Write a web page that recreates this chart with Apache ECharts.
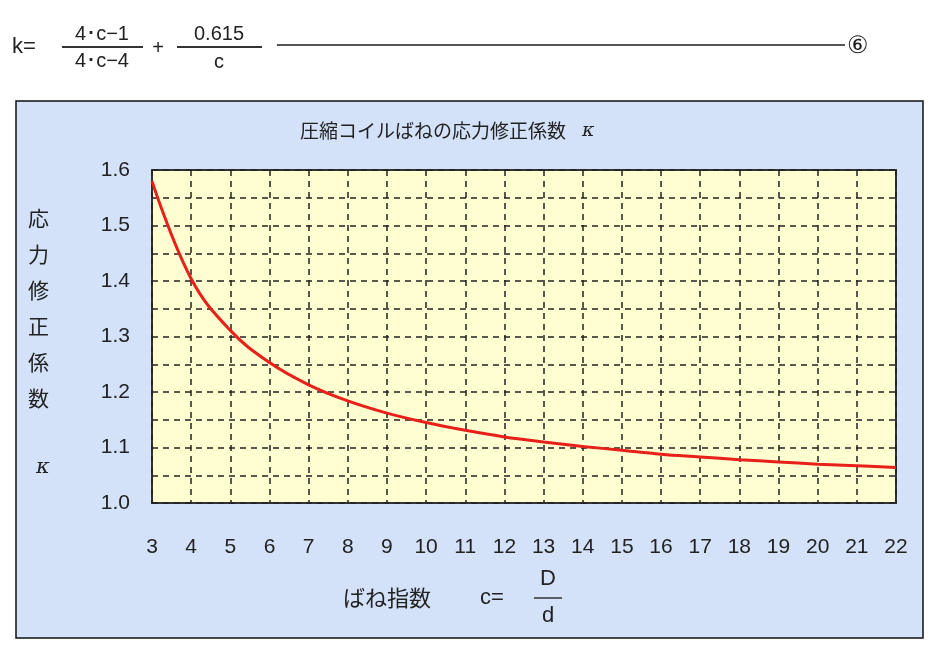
<!DOCTYPE html>
<html><head><meta charset="utf-8">
<script src="https://cdn.jsdelivr.net/npm/echarts@6/dist/echarts.min.js"></script>
<style>html,body{margin:0;padding:0;background:#fff}#c{width:940px;height:658px}</style>
</head><body><div id="c"></div>
<script>
const categories = ['3','4','5','6','7','8','9','10','11','12','13','14','15','16','17','18','19','20','21','22'];
const kValues = [1.580,1.404,1.311,1.253,1.213,1.184,1.162,1.145,1.131,1.119,1.110,1.102,1.095,1.088,1.083,1.078,1.074,1.070,1.067,1.064];

const chart = echarts.init(document.getElementById('c'));
const F = '"Liberation Sans", Arial, sans-serif';
const J = '"Noto Sans CJK JP", sans-serif';
const t = (x,y,text,size,fam,align,style)=>({type:'text',x,y,style:Object.assign({text,fontSize:size,fontFamily:fam||F,fill:'#222',verticalAlign:'middle',align:align||'left'},style||{})});
chart.setOption({
  animation:false,
  graphic:[
    {type:'rect',shape:{x:16,y:101,width:907,height:537},style:{fill:'#d3e2f9',stroke:'#111',lineWidth:1.5},z:-10},
    t(12,47,'k=',22),
    t(102,34,'4･c−1',20,F,'center'),
    {type:'line',shape:{x1:62,y1:47,x2:143,y2:47},style:{stroke:'#333',lineWidth:2}},
    t(102,61,'4･c−4',20,F,'center'),
    t(158,48,'+',20,F,'center'),
    t(219,34,'0.615',20,F,'center'),
    {type:'line',shape:{x1:177,y1:47,x2:262,y2:47},style:{stroke:'#333',lineWidth:2}},
    t(219,62,'c',20,F,'center'),
    {type:'line',shape:{x1:277,y1:45,x2:845,y2:45},style:{stroke:'#555',lineWidth:2}},
    t(847,46,'⑥',24),
    t(300,131,'圧縮コイルばねの応力修正係数',19,J),
    t(582,131,'κ',19,'"DejaVu Serif", serif','left',{fontStyle:'italic'}),
    {type:'text',x:28,y:200,style:{text:'応\n力\n修\n正\n係\n数',fontSize:21,fontFamily:J,fill:'#222',lineHeight:36}},
    t(36,468,'κ',21,'"DejaVu Serif", serif','left',{fontStyle:'italic'}),
    t(343,598,'ばね指数',22,J),
    t(480,598,'c=',22,F),
    t(548,579,'D',22,F,'center'),
    {type:'line',shape:{x1:534,y1:598,x2:562,y2:598},style:{stroke:'#333',lineWidth:1.5}},
    t(548,616,'d',22,F,'center')
  ],
  grid:{left:152,right:44,top:170,bottom:155,show:true,backgroundColor:'#fefed0',borderColor:'#333',borderWidth:2},
  xAxis:{type:'category',data:categories,boundaryGap:false,
    axisLine:{show:false},axisTick:{show:false},
    axisLabel:{color:'#222',fontSize:21,fontFamily:F,margin:34,interval:0},
    splitLine:{show:true,interval:0,lineStyle:{color:'#222',type:[6,5],width:1.5}}},
  yAxis:{type:'value',min:1.0,max:1.6,interval:0.05,
    axisLine:{show:false},axisTick:{show:false},
    axisLabel:{color:'#222',fontSize:21,fontFamily:F,margin:22,
      formatter:v=>{const r=Math.round(v*100);return r%10===0?(r/100).toFixed(1):'';}},
    splitLine:{show:true,lineStyle:{color:'#222',type:[6,5],width:1.5}}},
  series:[{type:'line',data:kValues,smooth:0.4,showSymbol:false,lineStyle:{color:'#e8201a',width:3}}]
});
</script></body></html>
